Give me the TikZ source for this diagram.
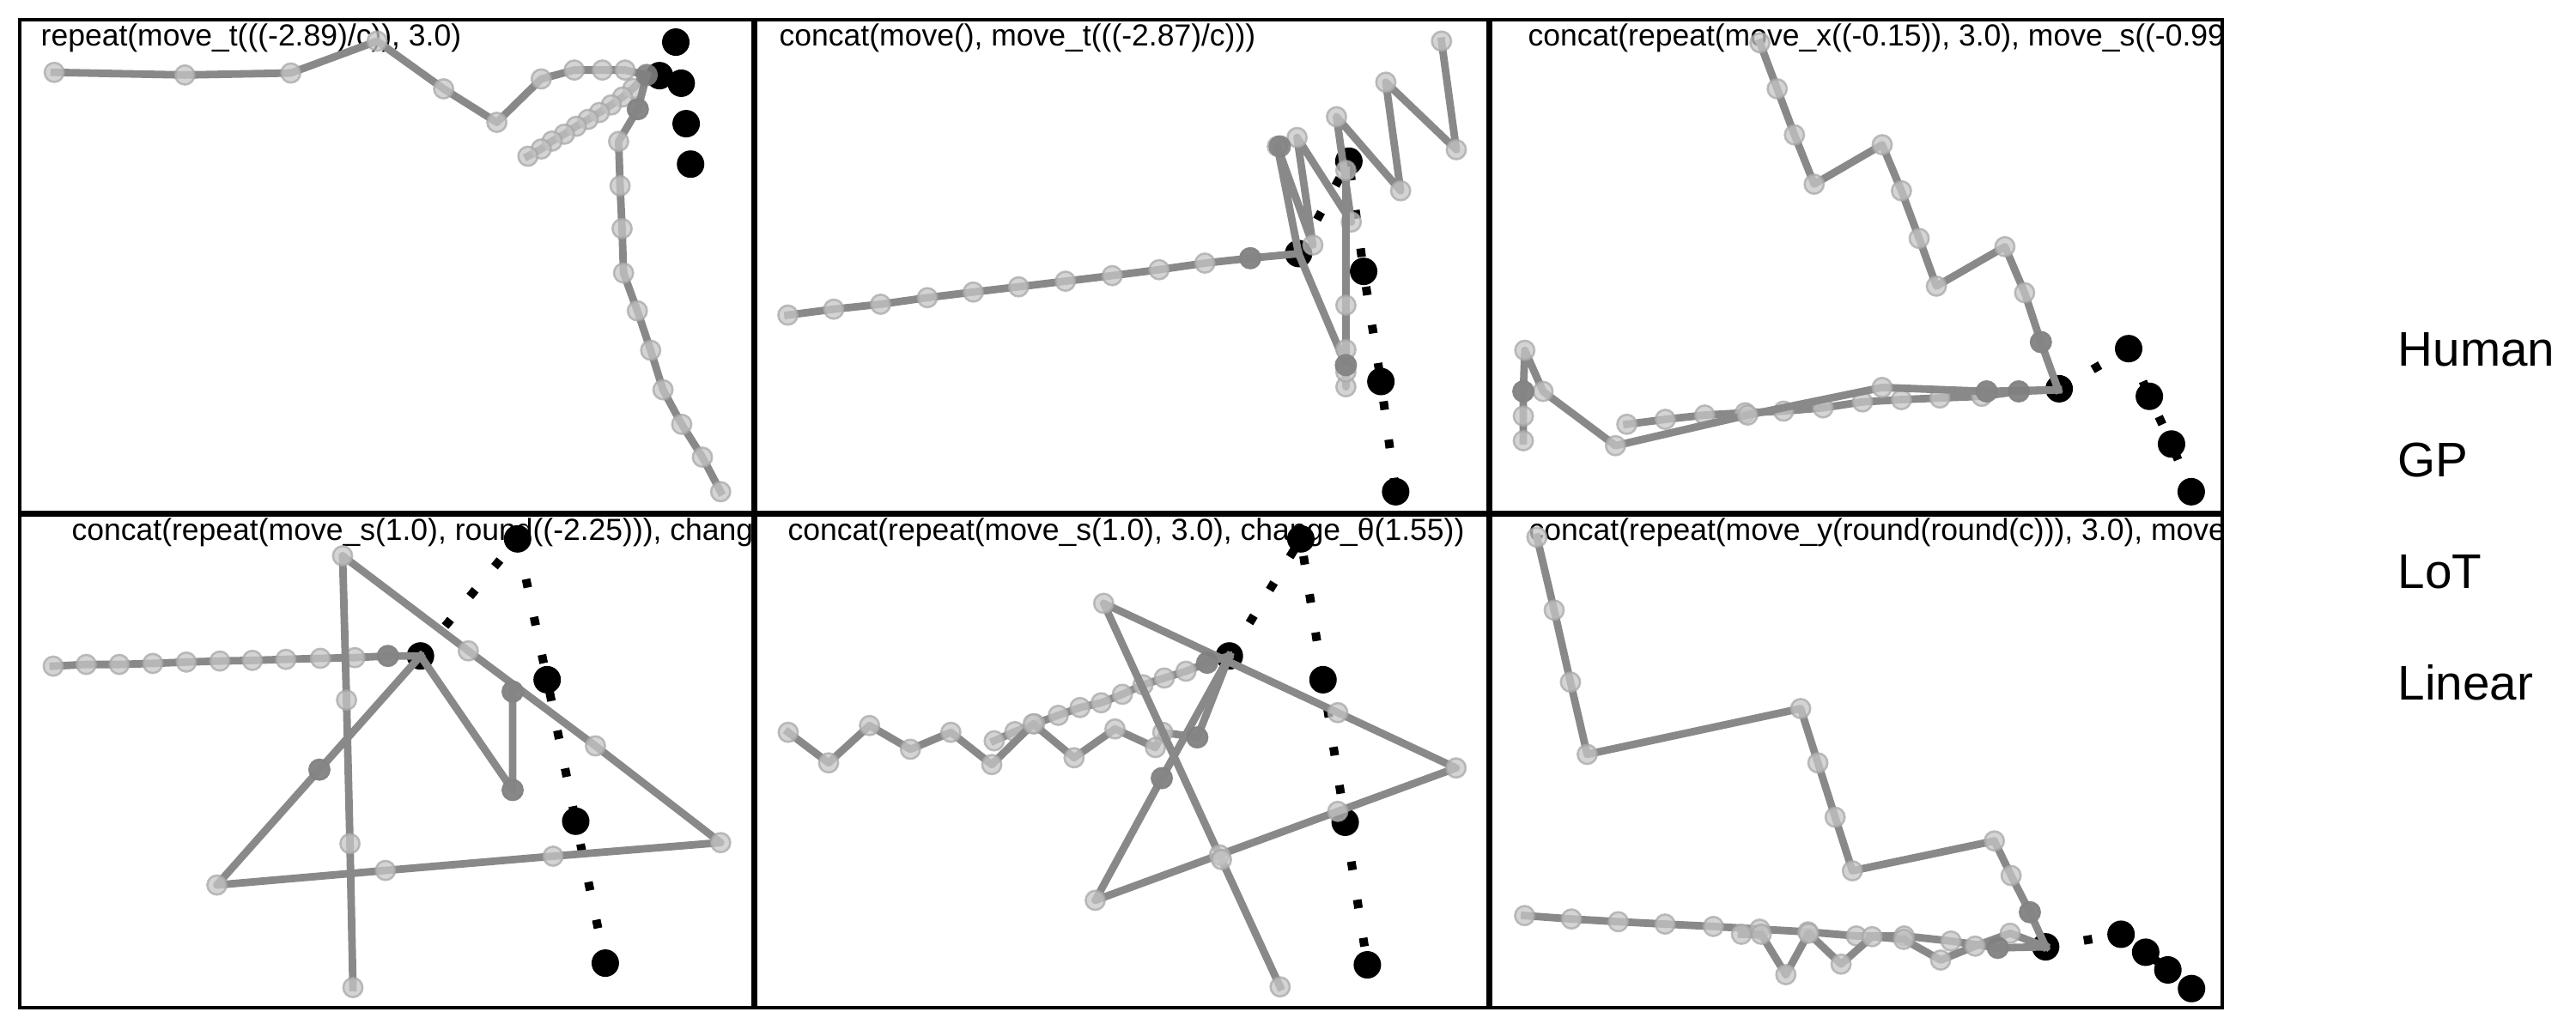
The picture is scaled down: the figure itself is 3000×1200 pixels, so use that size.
\documentclass[tikz,border=0pt]{standalone}
\usepackage{fontspec}
\setmainfont{Liberation Sans}
\usetikzlibrary{positioning}
\definecolor{trace}{RGB}{137, 137, 137}
\definecolor{spotfill}{RGB}{198, 198, 198}
\definecolor{spotrim}{RGB}{168, 168, 168}
\definecolor{overlap}{RGB}{128, 128, 128}

\tikzset{
    model/.style={draw=trace, line width=0.088cm, line cap=rect, line join=round},
    humanpath/.style={draw=black, line width=0.1cm, dash pattern=on 0.1cm off 0.35cm},
    spot/.style={fill=spotfill, draw=spotrim, line width=0.025cm, opacity=0.75},
    blob/.style={fill=overlap, opacity=0.9},
    panelframe/.style={draw=black, line width=0.045cm},
    paneltitle/.style={anchor=base west, inner sep=0pt, font=\fontsize{10.1}{12}\selectfont},
    legendtext/.style={anchor=base west, inner sep=0pt, font=\fontsize{16.1}{19}\selectfont}
}

\newcommand{\humantraj}[2]{%
    \draw[humanpath] (#1) \foreach \x/\y in {#2} {-- (\x,\y)};
    \fill (#1) circle[radius=0.16cm];
    \foreach \x/\y in {#2} {\fill (\x,\y) circle[radius=0.16cm];}
}
\newcommand{\traj}[2]{%
    \draw[model] (#1) \foreach \x/\y in {#2} {-- (\x,\y)};
    \foreach \x/\y in {#2} {\filldraw[spot] (\x,\y) circle[radius=0.112cm];}
}
\newcommand{\darkpts}[1]{%
    \foreach \x/\y in {#1} {\fill[blob] (\x,\y) circle[radius=0.13cm];}
}

\begin{document}
\begin{tikzpicture}[x=0.01cm, y=-0.01cm]
    \useasboundingbox (0,0) rectangle (3000,1200);

    % top row
    \begin{scope}
        \clip (23,23) rectangle (877,597);
        \node (title1) [paneltitle] at (47,53) {repeat(move\_t(((-2.89)/c)), 3.0)};
        \begin{scope}[x=0.00574cm, y=-0.003827cm]
            \humantraj{1338,230}{1371/128, 1382/253, 1392/376, 1401/499}
            \traj{1312,228}{1268/213, 1222/213, 1165/213, 1098/240, 1008/372, 900/270, 765/125, 590/222, 375/228, 110/220}
            \traj{1312,228}{1284/269, 1263/295, 1240/319, 1216/342, 1193/363, 1169/384, 1145/408, 1120/429, 1098/453, 1071/475}
            \traj{1312,228}{1294/332, 1255/430, 1258/565, 1262/695, 1265/830, 1293/945, 1320/1065, 1345/1185, 1383/1290, 1425/1390, 1462/1495}
            \darkpts{1312/228, 1294/332}
        \end{scope}
    \end{scope}

    \begin{scope}
        \clip (880,23) rectangle (1733,597);
        \node (title2) [paneltitle] at (907,53) {concat(move(), move\_t(((-2.87)/c)))};
        \begin{scope}[xshift=8.7cm, x=0.00574cm, y=-0.003827cm]
            \humantraj{1118,771}{1220/490, 1250/825, 1285/1160, 1315/1495}
            \traj{1118,771}{1020/785, 928/800, 835/820, 740/838, 645/855, 550/872, 458/888, 365/905, 270/925, 175/940, 82/958}
            \traj{1118,771}{1075/445, 1147/745, 1115/418, 1225/675, 1195/355, 1325/580, 1295/250, 1438/455, 1408/125}
            \traj{1118,771}{1214/1110, 1214/1176, 1214/1131, 1214/1063, 1214/928, 1214/518}
            \darkpts{1020/785, 1080/445, 1214/1110}
        \end{scope}
    \end{scope}

    \begin{scope}
        \clip (1736,23) rectangle (2588,597);
        \node (title3) [paneltitle] at (1779,53) {concat(repeat(move\_x((-0.15)), 3.0), move\_s((-0.99};
        \begin{scope}[xshift=17.3cm, x=0.00574cm, y=-0.003827cm]
            \humantraj{1162,1182}{1303/1060, 1345/1205, 1390/1350, 1430/1495}
            \traj{1160,1185}{1125/1040, 1092/890, 1052/750, 913/870, 878/725, 842/580, 803/440, 665/560, 625/410, 590/270, 555/130}
            \traj{1160,1185}{1080/1190, 1005/1205, 920/1210, 842/1215, 763/1222, 683/1240, 603/1250, 525/1255, 443/1262, 363/1275, 285/1290}
            \traj{1160,1185}{1015/1190, 803/1178, 530/1262, 262/1355, 115/1190, 78/1065, 75/1190, 75/1265, 75/1340}
            \darkpts{1125/1040, 1080/1190, 1015/1190, 75/1190}
        \end{scope}
    \end{scope}

    % bottom row
    \begin{scope}
        \clip (23,600) rectangle (877,1174);
        \node (title4) [paneltitle] at (83,629) {concat(repeat(move\_s(1.0), round((-2.25))), chang};
        \begin{scope}[yshift=-5.8cm, x=0.00574cm, y=-0.003954cm]
            \humantraj{853,465}{1050/120, 1110/535, 1168/952, 1228/1370}
            \traj{853,465}{787/465, 720/470, 650/472, 580/475, 512/478, 446/480, 378/483, 310/487, 242/490, 175/490, 108/495}
            \traj{853,465}{648/800, 440/1140, 782/1097, 1122/1055, 1462/1015, 1208/730, 950/450, 695/170, 703/595, 710/1018, 716/1442}
            \traj{853,465}{1040/860, 1040/570}
            \darkpts{787/465, 648/800, 1040/860, 1040/570}
        \end{scope}
    \end{scope}

    \begin{scope}
        \clip (880,600) rectangle (1733,1174);
        \node (title5) [paneltitle] at (917,629) {concat(repeat(move\_s(1.0), 3.0), change\_θ(1.55))};
        \begin{scope}[xshift=8.6cm, yshift=-5.8cm, x=0.00574cm, y=-0.003954cm]
            \humantraj{995,465}{1140/120, 1185/535, 1230/955, 1275/1375}
            \traj{995,465}{950/485, 907/510, 863/530, 820/550, 778/578, 735/603, 692/617, 648/640, 600/665, 560/688, 518/715}
            \traj{995,465}{930/705, 860/690, 845/735, 763/680, 680/765, 597/665, 513/785, 430/690, 348/740, 265/670, 182/780, 100/690}
            \traj{995,465}{858/825, 723/1185, 975/1051, 1215/923, 1455/795, 1215/632, 740/310, 979/1065, 1098/1440}
            \darkpts{950/485, 930/705, 858/825}
        \end{scope}
    \end{scope}

    \begin{scope}
        \clip (1736,600) rectangle (2588,1174);
        \node (title6) [paneltitle] at (1780,629) {concat(repeat(move\_y(round(round(c))), 3.0), move};
        \begin{scope}[xshift=17.2cm, yshift=-5.8cm, x=0.00574cm, y=-0.003954cm]
            \humantraj{1152,1322}{1305/1285, 1355/1338, 1400/1390, 1448/1445}
            \traj{1152,1322}{1120/1220, 1082/1112, 1048/1010, 760/1098, 725/940, 690/780, 655/620, 222/755, 188/542, 155/330, 120/115}
            \traj{1152,1322}{1055/1325, 960/1305, 865/1290, 768/1290, 670/1278, 572/1270, 478/1262, 380/1255, 285/1248, 190/1240, 95/1230}
            \traj{1152,1322}{1080/1282, 1009/1320, 939/1361, 864/1300, 800/1292, 737/1373, 671/1282, 625/1404, 575/1285, 535/1285}
            \darkpts{1120/1220, 1055/1325}
        \end{scope}
    \end{scope}

    \foreach \x/\y/\w/\h in {23/23/877/597, 880/23/1733/597, 1736/23/2588/597, 23/600/877/1174, 880/600/1733/1174, 1736/600/2588/1174}
        \draw[panelframe] (\x,\y) rectangle (\w,\h);

    \foreach \name/\y in {Human/426, GP/555, LoT/685, Linear/815}
        \node (\name) [legendtext] at (2792,\y) {\name};
\end{tikzpicture}
\end{document}
